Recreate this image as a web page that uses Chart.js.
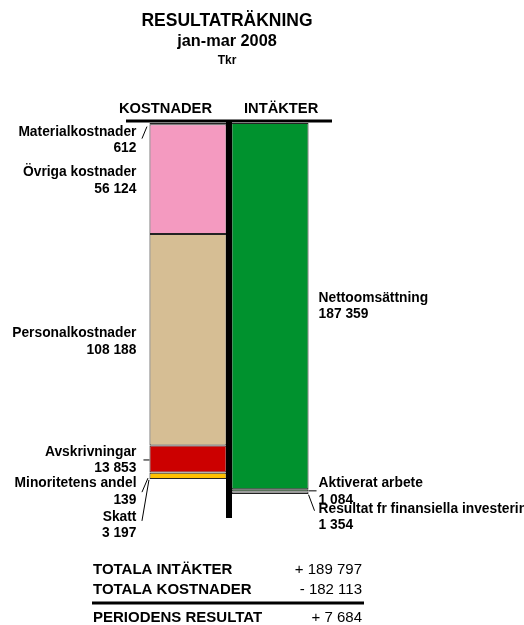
<!DOCTYPE html>
<html><head><meta charset="utf-8">
<script src="https://cdn.jsdelivr.net/npm/chart.js@4"></script>
<style>html,body{margin:0;padding:0;background:#fff}#wrap{width:524px;height:625px}</style>
</head><body><div id="wrap"><canvas id="c" width="524" height="625"></canvas></div>
<script>
// ---- data ----
const categories = ['KOSTNADER', 'INTÄKTER'];
const titleLines = ['RESULTATRÄKNING', 'jan-mar 2008', 'Tkr'];
const costLabels = ['Materialkostnader', 'Övriga kostnader', 'Personalkostnader', 'Avskrivningar', 'Minoritetens andel', 'Skatt'];
const costValues = [612, 56124, 108188, 13853, 139, 3197];
const incomeLabels = ['Nettoomsättning', 'Aktiverat arbete', 'Resultat fr finansiella investeringar'];
const incomeValues = [187359, 1084, 1354];
const summaryLabels = ['TOTALA INTÄKTER', 'TOTALA KOSTNADER', 'PERIODENS RESULTAT'];
const yMax = 200000;

// ---- styles ----
const costColors = ['#F49AC0', '#F49AC0', '#D6BE94', '#CC0000', '#FF8000', '#FFC000'];
const incomeColors = ['#00922E', '#5FBF5F', '#A0A0A0'];
// label offsets from segment middle (px) and leader lines
const costLabelDy = [16.5, 1.5, 2, 1, 19, 49];
const costLeaders = [[-7.5, 15, -2.5, 3], null, null, [-6, 1, 0, 1], [-7.5, 19.5, -1.5, 5.5], [-7.5, 45, -0.5, 4]];
const incomeLabelDy = [0, 1, 24];
const incomeLeaders = [null, [0, 0.5, 8, 0.5], [0, 2, 6, 18]];

const fmt = n => String(n).replace(/\B(?=(\d{3})+(?!\d))/g, ' ');
const sum = a => a.reduce((s, v) => s + v, 0);

const datasets = [];
costLabels.forEach((l, i) => datasets.push({
  label: l, data: [costValues[i], null], backgroundColor: costColors[i],
  borderColor: '#222', borderWidth: 1, borderSkipped: false, stack: 's',
  barPercentage: 0.94, categoryPercentage: 1
}));
incomeLabels.forEach((l, i) => datasets.push({
  label: l, data: [null, incomeValues[i]], backgroundColor: incomeColors[i],
  borderColor: '#222', borderWidth: 1, borderSkipped: false, stack: 's',
  barPercentage: 0.94, categoryPercentage: 1
}));

const FONT = '"Liberation Sans", Arial, sans-serif';

const drawPlugin = {
  id: 'resdraw',
  beforeDraw(chart) {
    const ctx = chart.ctx;
    ctx.save(); ctx.fillStyle = '#fff'; ctx.fillRect(0, 0, chart.width, chart.height); ctx.restore();
  },
  afterDatasetsDraw(chart) {
    const ctx = chart.ctx;
    const ca = chart.chartArea;
    const costEl = i => chart.getDatasetMeta(i).data[0];
    const incEl = i => chart.getDatasetMeta(costLabels.length + i).data[1];
    const c0 = costEl(0), n0 = incEl(0);
    const costLeft = c0.x - c0.width / 2, costRight = c0.x + c0.width / 2;
    const incLeft = n0.x - n0.width / 2, incRight = n0.x + n0.width / 2;
    const divX = (costRight + incLeft) / 2;
    ctx.save();
    // divider lines
    ctx.fillStyle = '#000';
    ctx.fillRect(divX - 3, ca.top - 3, 6, ca.bottom - ca.top + 7);
    ctx.fillRect(divX - 103, ca.top - 3.5, 206, 3);

    // title
    ctx.textAlign = 'center'; ctx.textBaseline = 'middle';
    ctx.font = 'bold 17.5px ' + FONT; ctx.fillText(titleLines[0], divX - 2, 21);
    ctx.font = 'bold 16.3px ' + FONT; ctx.fillText(titleLines[1], divX - 2, 42);
    ctx.font = 'bold 12px ' + FONT; ctx.fillText(titleLines[2], divX - 2, 61);

    // headers
    ctx.font = 'bold 14.7px ' + FONT;
    ctx.textAlign = 'right'; ctx.fillText(categories[0], divX - 17, 109);
    ctx.textAlign = 'left'; ctx.fillText(categories[1], divX + 15, 109);

    // labels
    ctx.font = 'bold 13.8px ' + FONT;
    ctx.strokeStyle = '#000'; ctx.lineWidth = 1;
    costLabels.forEach((l, i) => {
      const el = costEl(i);
      const mid = (el.y + el.base) / 2;
      const cy = mid + costLabelDy[i];
      ctx.textAlign = 'right';
      ctx.fillText(l, costLeft - 13, cy - 8);
      ctx.fillText(fmt(costValues[i]), costLeft - 13, cy + 8.5);
      const ld = costLeaders[i];
      if (ld) {
        ctx.beginPath();
        ctx.moveTo(costLeft + ld[0], mid + ld[1]);
        ctx.lineTo(costLeft + ld[2], mid + ld[3]);
        ctx.stroke();
      }
    });
    incomeLabels.forEach((l, i) => {
      const el = incEl(i);
      const mid = (el.y + el.base) / 2;
      const cy = mid + incomeLabelDy[i];
      ctx.textAlign = 'left';
      ctx.fillText(l, incRight + 10, cy - 8);
      ctx.fillText(fmt(incomeValues[i]), incRight + 10, cy + 8.5);
      const ld = incomeLeaders[i];
      if (ld) {
        ctx.beginPath();
        ctx.moveTo(incRight + ld[0], mid + ld[1]);
        ctx.lineTo(incRight + ld[2], mid + ld[3]);
        ctx.stroke();
      }
    });

    // summary
    const ti = sum(incomeValues), tk = sum(costValues), res = ti - tk;
    const sumVals = ['+ ' + fmt(ti), '- ' + fmt(tk), (res >= 0 ? '+ ' : '- ') + fmt(Math.abs(res))];
    const rows = [570, 590, 618];
    rows.forEach((y, i) => {
      ctx.font = 'bold 15px ' + FONT; ctx.textAlign = 'left';
      ctx.fillText(summaryLabels[i], 93, y);
      ctx.font = '15px ' + FONT; ctx.textAlign = 'right';
      ctx.fillText(sumVals[i], 362, y);
    });
    ctx.fillRect(92, 601.5, 272, 3);
    ctx.restore();
  }
};

new Chart(document.getElementById('c'), {
  type: 'bar',
  data: { labels: categories, datasets },
  options: {
    responsive: false, animation: false, devicePixelRatio: 1,
    layout: { padding: { left: 147, right: 213, top: 123, bottom: 111 } },
    plugins: { legend: { display: false }, tooltip: { enabled: false }, title: { display: false } },
    scales: {
      x: { display: false, stacked: true },
      y: { display: false, stacked: true, reverse: true, min: 0, max: yMax }
    }
  },
  plugins: [drawPlugin]
});
</script>
</body></html>
